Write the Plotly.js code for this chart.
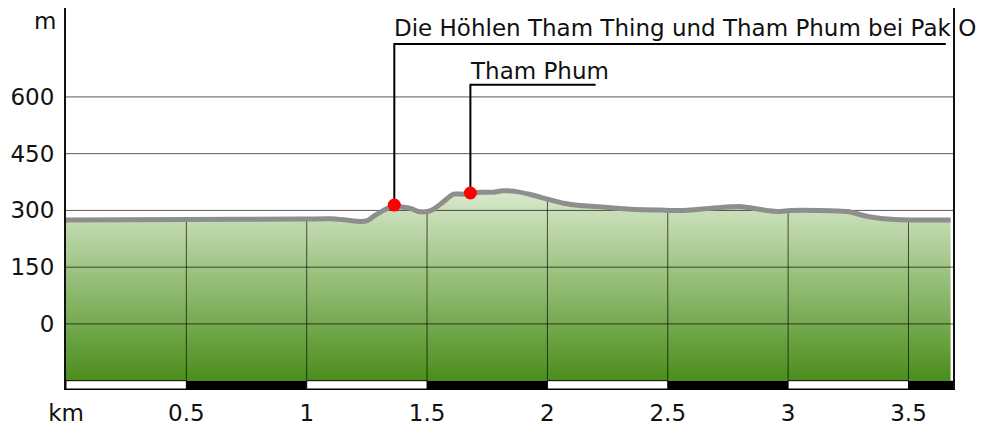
<!DOCTYPE html>
<html>
<head>
<meta charset="utf-8">
<script src="https://cdn.plot.ly/plotly-3.0.1.min.js"></script>
<style>html,body{margin:0;padding:0;background:#fff;}#chart{width:991px;height:428px;}</style>
</head>
<body>
<div id="chart"></div>
<script>
// Elevation profile (km, m)
const distKm = [0, 0.5, 0.975, 1.099, 1.161, 1.223, 1.252, 1.277, 1.319, 1.360, 1.389, 1.418, 1.438, 1.464, 1.502, 1.527, 1.568, 1.609, 1.651, 1.680, 1.722, 1.776, 1.813, 1.859, 1.930, 2.000, 2.067, 2.137, 2.208, 2.345, 2.470, 2.566, 2.707, 2.803, 2.844, 2.898, 2.960, 3.010, 3.122, 3.247, 3.330, 3.397, 3.509, 3.675];
const elevM  = [275, 276, 277, 278, 275, 271, 273, 284, 300, 313, 310, 307, 304, 297, 297, 303, 323, 343, 343, 345, 348, 348, 352, 351, 342, 330, 319, 313, 310, 303, 301, 300, 307, 310, 307, 301, 297, 300, 300, 297, 284, 278, 275, 275];

// Points of interest
const poiNames = ["Die Höhlen Tham Thing und Tham Phum bei Pak O", "Tham Phum"];
const poiKm    = [1.364, 1.680];
const poiElev  = [314, 346];

// Axis ticks
const yTicks = [0, 150, 300, 450, 600];
const xTicks = [0, 0.5, 1, 1.5, 2, 2.5, 3, 3.5];
const xTickText = ["km", "0.5", "1", "1.5", "2", "2.5", "3", "3.5"];

// layout helpers (not data)
const X_MAX = 3.685, Y_MIN = -172, Y_MAX = 835, BASE = -150;
const calloutTop = [740, 632];    // elevation (m) of the horizontal callout rule
const calloutEnd = [3.655, 2.200]; // km where the callout rule ends
const labelY = [783, 668];

function elevAt(x) {
  for (let i = 0; i < distKm.length - 1; i++) {
    if (x >= distKm[i] && x <= distKm[i + 1]) {
      const t = (x - distKm[i]) / (distKm[i + 1] - distKm[i]);
      return elevM[i] + t * (elevM[i + 1] - elevM[i]);
    }
  }
  return elevM[elevM.length - 1];
}

const traces = [];
// baseline for fill
traces.push({x: distKm, y: distKm.map(() => BASE), mode: 'lines', line: {width: 0, color: 'rgba(0,0,0,0)'}, hoverinfo: 'skip', showlegend: false});
// gradient fill
traces.push({x: distKm, y: elevM, mode: 'lines', line: {width: 0, color: 'rgba(0,0,0,0)', shape: 'spline', smoothing: 0.6},
  fill: 'tonexty',
  fillgradient: {type: 'vertical', start: BASE, stop: 352, colorscale: [[0, '#4b8e1b'], [1, '#d9e9cd']]},
  fillcolor: '#9cc47e', hoverinfo: 'skip', showlegend: false});
// grid lines
const gx = [], gy = [];
yTicks.forEach(v => { gx.push(0, X_MAX, null); gy.push(v, v, null); });
xTicks.filter(v => v > 0).forEach(v => { gx.push(v, v, null); gy.push(BASE, elevAt(v), null); });
traces.push({x: gx, y: gy, mode: 'lines', line: {width: 1, color: 'rgba(0,0,0,0.65)'}, hoverinfo: 'skip', showlegend: false});
// profile line
traces.push({x: distKm, y: elevM, mode: 'lines', line: {width: 5, color: '#8e8e8e', shape: 'spline', smoothing: 0.6}, hoverinfo: 'skip', showlegend: false});
// callouts
const cx = [], cy = [];
poiKm.forEach((k, i) => { cx.push(k, k, calloutEnd[i], null); cy.push(poiElev[i], calloutTop[i], calloutTop[i], null); });
traces.push({x: cx, y: cy, mode: 'lines', line: {width: 2, color: '#000'}, hoverinfo: 'skip', showlegend: false});
// POI markers
traces.push({x: poiKm, y: poiElev, mode: 'markers', marker: {size: 13, color: '#ff0000'}, hoverinfo: 'skip', showlegend: false});

const shapes = [];
// scale bar
for (let i = 0; i < xTicks.length; i++) {
  const x0 = xTicks[i], x1 = Math.min(xTicks[i] + 0.5, X_MAX);
  shapes.push({type: 'rect', xref: 'x', yref: 'y', x0: x0, x1: x1, y0: Y_MIN, y1: BASE,
    fillcolor: (i % 2 === 1) ? '#000' : '#fff', line: {width: (i % 2 === 1) ? 0 : 1, color: '#000'}, layer: 'above'});
}

const font = {family: 'DejaVu Sans, sans-serif', size: 23, color: '#111'};
const annotations = poiNames.map((n, i) => ({
  text: n, x: poiKm[i], y: labelY[i], xref: 'x', yref: 'y', xanchor: 'left', yanchor: 'middle',
  showarrow: false, font: font, xshift: -2
}));
annotations.push({text: 'm', xref: 'paper', x: 0, xanchor: 'right', xshift: -8, yref: 'y', y: 800, yanchor: 'middle', showarrow: false, font: font});

const layout = {
  width: 991, height: 428,
  margin: {l: 66, r: 38, t: 8, b: 39},
  paper_bgcolor: '#fff', plot_bgcolor: '#fff',
  showlegend: false, hovermode: false,
  xaxis: {range: [0, X_MAX], tickvals: xTicks, ticktext: xTickText, showgrid: false, zeroline: false,
    showline: true, linecolor: '#000', linewidth: 1, ticks: 'outside', ticklen: 3, tickcolor: 'rgba(0,0,0,0)',
    tickfont: font, fixedrange: true},
  yaxis: {range: [Y_MIN, Y_MAX], tickvals: yTicks, showgrid: false, zeroline: false,
    showline: true, mirror: true, linecolor: '#111', linewidth: 2, ticks: 'outside', ticklen: 5, tickcolor: 'rgba(0,0,0,0)',
    tickfont: font, fixedrange: true},
  shapes: shapes,
  annotations: annotations
};

Plotly.newPlot('chart', traces, layout, {displayModeBar: false, staticPlot: true});
</script>
</body>
</html>
